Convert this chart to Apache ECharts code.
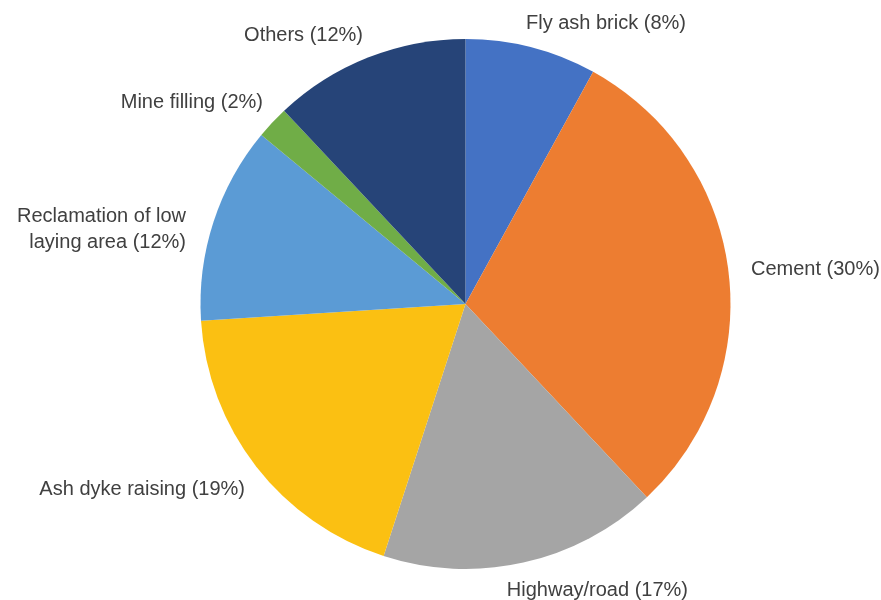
<!DOCTYPE html>
<html>
<head>
<meta charset="utf-8">
<script src="https://cdn.jsdelivr.net/npm/echarts@6/dist/echarts.min.js"></script>
<style>
  html, body { margin: 0; padding: 0; background: #ffffff; }
  #chart { width: 881px; height: 600px; }
</style>
</head>
<body>
<div id="chart"></div>
<script>
// Fly ash utilisation by end use (share of total, %)
const categories = [
  'Fly ash brick',
  'Cement',
  'Highway/road',
  'Ash dyke raising',
  'Reclamation of low\nlaying area',
  'Mine filling',
  'Others'
];
const shares = [8, 30, 17, 19, 12, 2, 12];
const sliceColors = ['#4472C4', '#ED7D31', '#A5A5A5', '#FBC012', '#5B9BD5', '#70AD47', '#264478'];

// Label anchor points (pixels) and alignment for each slice's caption
const labelSpots = [
  { x: 686, y: 23, align: 'right' },
  { x: 751, y: 269, align: 'left' },
  { x: 688, y: 590, align: 'right' },
  { x: 245, y: 489, align: 'right' },
  { x: 186, y: 229, align: 'right' },
  { x: 263, y: 102, align: 'right' },
  { x: 363, y: 35, align: 'right' }
];

const chart = echarts.init(document.getElementById('chart'), null, { renderer: 'canvas' });

chart.setOption({
  animation: false,
  backgroundColor: '#ffffff',
  series: [{
    type: 'pie',
    center: [465.5, 304],
    radius: 265,
    startAngle: 90,
    clockwise: true,
    avoidLabelOverlap: false,
    data: categories.map((name, i) => ({
      name: name,
      value: shares[i],
      itemStyle: { color: sliceColors[i] }
    })),
    itemStyle: { borderWidth: 0 },
    label: {
      show: true,
      position: 'outside',
      formatter: p => p.name + ' (' + p.value + '%)',
      fontFamily: '"Liberation Sans", Arial, sans-serif',
      fontSize: 20,
      lineHeight: 26,
      color: '#404040',
      align: 'right'
    },
    labelLine: { show: false },
    labelLayout: params => {
      const s = labelSpots[params.dataIndex];
      return { x: s.x, y: s.y, align: s.align, verticalAlign: 'middle', hideOverlap: false };
    }
  }]
});
</script>
</body>
</html>
